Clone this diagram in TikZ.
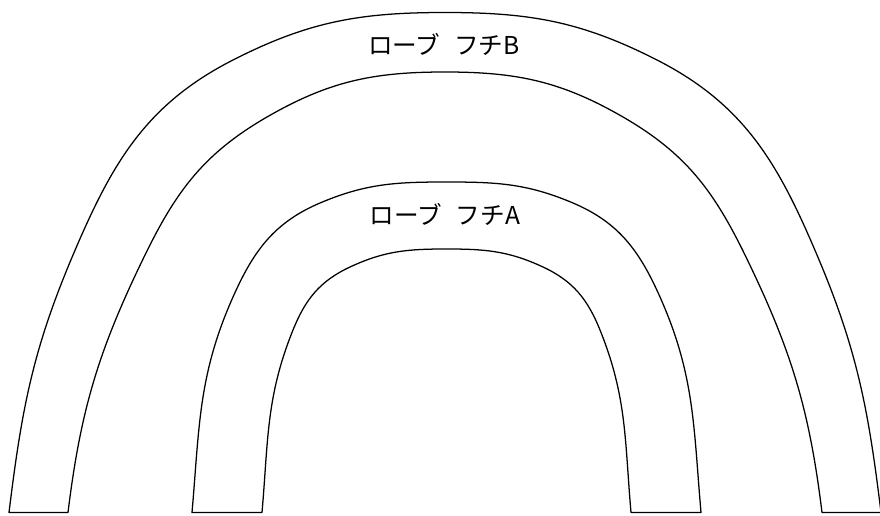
\documentclass[tikz,border=0pt]{standalone}
\usepackage{fontspec}
\usepackage{tikz}
\newfontfamily\jpfont[WordSpace=2.5]{Noto Sans CJK JP}
\newcommand\labelfont{\jpfont\fontsize{17.5pt}{20pt}\selectfont}
\newcommand\labelnode[2]{node[inner sep=0pt, outer sep=0pt, font=\labelfont] (#1) {#2}}

\begin{document}
\begin{tikzpicture}[x=0.025cm, y=0.025cm, line width=0.9pt, line join=round]
                \useasboundingbox (0,0) rectangle (880,515);

                % Полоса B
                \draw
                    (9,2.5) to[out=83,in=247]
                    (73,260) to[out=67,in=207]
                    (233,455) to[out=27,in=180]
                    (445,502.5) to[out=0,in=153]
                    (657,455) to[out=-27,in=113]
                    (817,260) to[out=-67,in=97]
                    (881,2.5) --
                    (822,2.5) to[out=97,in=-64]
                    (745,260) to[out=116,in=-30]
                    (623,398) to[out=150,in=0]
                    (445,443) to[out=180,in=30]
                    (267,398) to[out=210,in=64]
                    (145,260) to[out=244,in=83]
                    (68,2.5) -- cycle;

                % Полоса A
                \draw
                    (192,2.5) to[out=85,in=246]
                    (233,218) to[out=66,in=203]
                    (320,312) to[out=23,in=180]
                    (446.5,333) to[out=0,in=157]
                    (573,312) to[out=-23,in=114]
                    (660,218) to[out=-66,in=95]
                    (701,2.5) --
                    (631,2.5) to[out=95,in=-68]
                    (600,185) to[out=112,in=-25]
                    (543,248) to[out=155,in=0]
                    (446.5,266) to[out=180,in=25]
                    (350,248) to[out=205,in=68]
                    (293,185) to[out=248,in=85]
                    (262,2.5) -- cycle;

                % Подписи
                \path
                    (444,471) \labelnode{fuchiB}{ローブ フチB}
                    (445,301) \labelnode{fuchiA}{ローブ フチA};
\end{tikzpicture}
\end{document}
